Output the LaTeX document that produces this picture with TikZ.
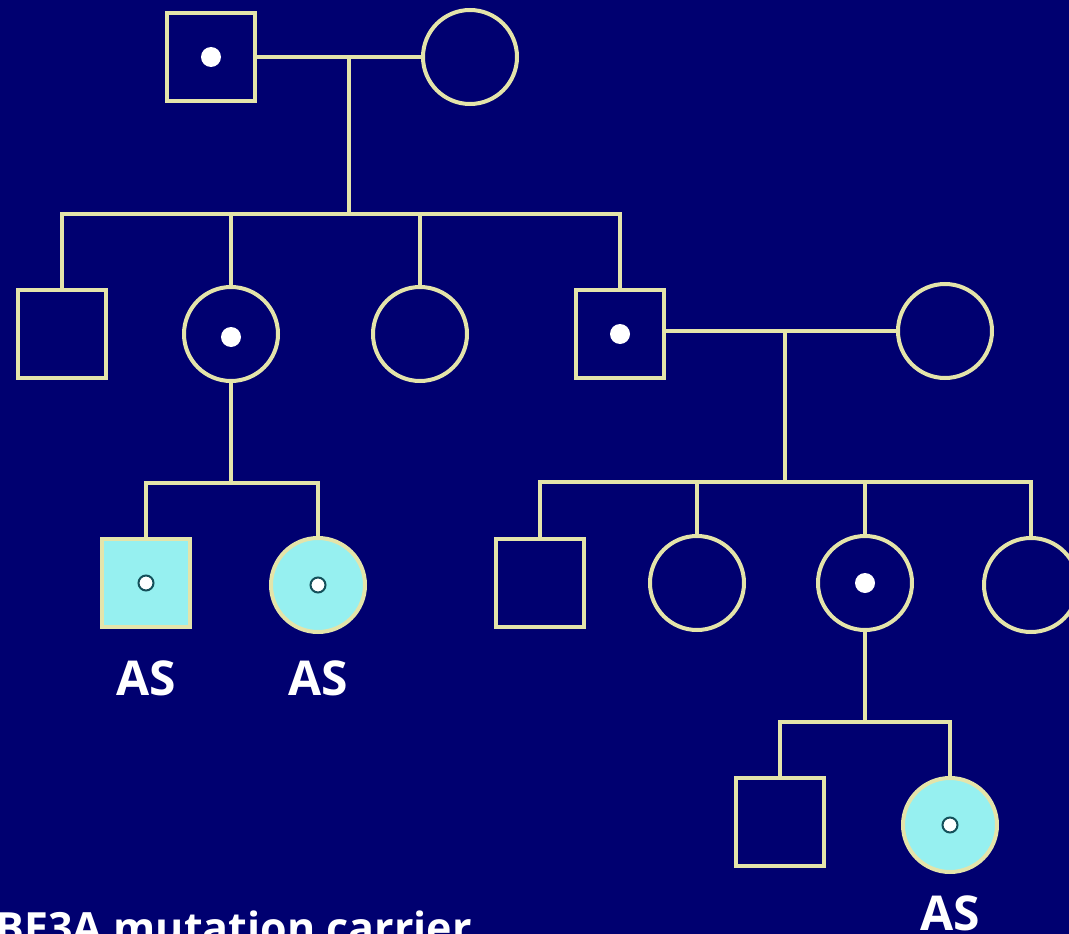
\documentclass[tikz,border=0pt]{standalone}
\usepackage{fontspec}
\setmainfont{Open Sans}
\definecolor{bgc}{RGB}{0,0,112}
\definecolor{linec}{RGB}{228,228,170}
\definecolor{cyanf}{RGB}{150,240,240}
\definecolor{tealc}{RGB}{20,80,90}
\tikzset{
  ln/.style={draw=linec, line width=4pt},
  male/.style={rectangle, draw=linec, line width=4pt, minimum size=88pt, inner sep=0pt},
  female/.style={circle, draw=linec, line width=4pt, minimum size=94pt, inner sep=0pt},
  aff/.style={fill=cyanf},
  cdot/.style={circle, fill=white, minimum size=20pt, inner sep=0pt},
  odot/.style={circle, draw=tealc, fill=white, line width=2pt, minimum size=15pt, inner sep=0pt},
  lab/.style={text=white, font=\bfseries\fontsize{48}{48}\selectfont, inner sep=0pt}
}
\begin{document}
\begin{tikzpicture}[x=1pt,y=-1pt]
\fill[bgc] (0,0) rectangle (1069,934);
\useasboundingbox (0,0) rectangle (1069,934);
\clip (0,0) rectangle (1069,934);
% generation I
\node[male] (I1) at (211,57) {};
\node[female] (I2) at (470,57) {};
\node[cdot] (I1d) at (I1.center) {};
% generation II
\node[male] (II1) at (62,334) {};
\node[female] (II2) at (231,334) {};
\node[cdot] (II2d) at ([yshift=-3pt]II2.center) {};
\node[female] (II3) at (420,334) {};
\node[male] (II4) at (620,334) {};
\node[cdot] (II4d) at (II4.center) {};
\node[female] (II5) at (945,331) {};
% generation III
\node[male, aff] (III1) at (146,583) {};
\node[odot] (III1d) at (III1.center) {};
\node[female, aff] (III2) at (318,585) {};
\node[odot] (III2d) at (III2.center) {};
\node[male] (III3) at (540,583) {};
\node[female] (III4) at (697,583) {};
\node[female] (III5) at (865,583) {};
\node[cdot] (III5d) at (III5.center) {};
\node[female] (III6) at (1031,585) {};
% generation IV
\node[male] (IV1) at (780,822) {};
\node[female, aff] (IV2) at (950,825) {};
\node[odot] (IV2d) at (IV2.center) {};
% junctions
\coordinate (c1) at (349,57);
\coordinate (s1) at (349,214);
\coordinate (c2) at (785,331);
\coordinate (s2) at (785,482);
\coordinate (sL) at (231,483);
\coordinate (s4) at (865,722);
% connectors
\draw[ln] (I1.east) -- (I2.west);
\draw[ln] (c1) -- (s1);
\draw[ln] (II1.north) |- (s1) -| (II4.north);
\draw[ln] (II2.north) |- (s1);
\draw[ln] (II3.north) |- (s1);
\draw[ln] (II4.east |- II5.west) -- (II5.west);
\draw[ln] (c2) -- (s2);
\draw[ln] (III3.north) |- (s2) -| (III6.north);
\draw[ln] (III4.north) |- (s2);
\draw[ln] (III5.north) |- (s2);
\draw[ln] (II2.south) -- (sL);
\draw[ln] (III1.north) |- (sL) -| (III2.north);
\draw[ln] (III5.south) -- (s4);
\draw[ln] (IV1.north) |- (s4) -| (IV2.north);
% labels
\node[lab, anchor=base] (L1) at (146,695) {AS};
\node[lab, anchor=base] (L2) at (318,695) {AS};
\node[lab, anchor=base] (L3) at (950,930) {AS};
\node[lab, anchor=base east, font=\bfseries\fontsize{43}{43}\selectfont] (key) at (472,943) {UBE3A mutation carrier};
\end{tikzpicture}
\end{document}
